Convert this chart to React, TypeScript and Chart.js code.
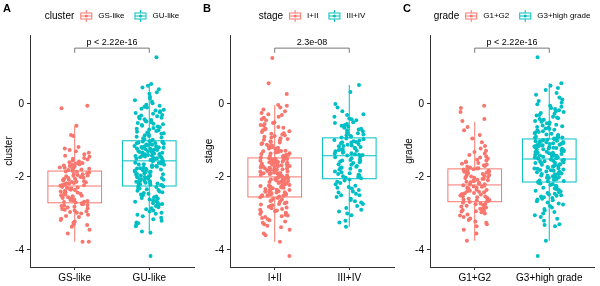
import React, { useEffect, useRef } from "react";
import { Chart, registerables } from "chart.js";
Chart.register(...registerables);

Chart.defaults.font.family = "'Liberation Sans', Arial, sans-serif";

const PINK = "#F8766D";
const TEAL = "#00BFC4";

// ---------- text ----------
const panelLetters = ["A", "B", "C"];
const legendTitles = ["cluster", "stage", "grade"];
const categoriesA = ["GS-like", "GU-like"];
const categoriesB = ["I+II", "III+IV"];
const categoriesC = ["G1+G2", "G3+high grade"];
const pLabels = ["p < 2.22e-16", "2.3e-08", "p < 2.22e-16"];

// ---------- axes ----------
const yTicks = [-4, -2, 0];
const xTicks = [1, 2];
const yMin = -4.47;
const yMax = 1.89;
const bracketY = 1.53;
const bracketDrop = 1.4;

// ---------- box statistics [lower whisker, Q1, median, Q3, upper whisker] ----------
const statsA_GS = [-3.78, -2.71, -2.25, -1.84, -0.6];
const statsA_GU = [-3.53, -2.25, -1.56, -1.01, 0.55];
const statsB_12 = [-3.78, -2.55, -2.0, -1.48, -0.03];
const statsB_34 = [-3.37, -2.05, -1.42, -0.93, 0.52];
const statsC_12 = [-3.75, -2.68, -2.22, -1.78, -0.49];
const statsC_3H = [-3.75, -2.14, -1.51, -0.96, 0.57];

// ---------- points ----------
const pointsA_GS = [-0.05,-0.12,-0.6,-0.85,-0.88,-1.18,-1.22,-1.26,-1.3,-1.34,-1.38,-1.42,-1.45,-1.48,-1.5,-1.52,-1.55,-1.58,-1.6,-1.62,-1.63,-1.65,-1.67,-1.69,-1.7,-1.72,-1.74,-1.75,-1.76,-1.78,-1.8,-1.81,-1.83,
-1.85,-1.86,-1.88,-1.9,-1.92,-1.93,-1.95,-1.96,-1.97,-1.98,-2.0,-2.02,-2.03,-2.05,-2.06,-2.07,-2.08,-2.1,-2.12,-2.13,-2.14,-2.15,-2.17,-2.18,-2.19,-2.2,-2.21,-2.22,-2.23,-2.24,
-2.26,-2.27,-2.29,-2.3,-2.32,-2.33,-2.35,-2.36,-2.38,-2.4,-2.42,-2.43,-2.45,-2.46,-2.48,-2.5,-2.52,-2.53,-2.55,-2.56,-2.58,-2.6,-2.62,-2.63,-2.65,-2.66,-2.68,-2.69,-2.7,
-2.72,-2.74,-2.75,-2.77,-2.79,-2.8,-2.82,-2.84,-2.86,-2.88,-2.9,-2.92,-2.94,-2.96,-2.98,-3.0,-3.04,-3.07,-3.1,-3.15,-3.18,-3.22,-3.26,-3.3,-3.32,-3.37,-3.45,-3.55,-3.78,-3.78];

const pointsA_GU = [1.28,0.55,0.5,0.45,0.4,0.32,0.28,0.2,0.15,0.1,0.06,0.02,-0.02,-0.05,-0.08,-0.1,-0.13,-0.16,-0.18,-0.2,-0.23,-0.25,-0.27,-0.3,-0.32,-0.34,-0.36,-0.38,-0.4,-0.42,-0.44,-0.46,-0.48,-0.5,-0.52,-0.54,-0.56,-0.58,-0.6,-0.62,-0.64,-0.66,-0.68,-0.7,-0.72,-0.74,-0.76,-0.78,-0.8,-0.82,-0.84,-0.86,-0.88,-0.9,-0.92,-0.94,-0.96,-0.98,-1.0,
-1.02,-1.03,-1.04,-1.05,-1.06,-1.07,-1.08,-1.09,-1.1,-1.11,-1.12,-1.13,-1.14,-1.15,-1.16,-1.17,-1.18,-1.19,-1.2,-1.21,-1.22,-1.23,-1.24,-1.25,-1.26,-1.27,-1.28,-1.29,-1.3,-1.31,-1.32,-1.33,-1.34,-1.35,-1.36,-1.37,-1.38,-1.39,-1.4,-1.41,-1.42,-1.43,-1.44,-1.45,-1.46,-1.47,-1.48,-1.49,-1.5,-1.51,-1.52,-1.53,-1.54,-1.55,
-1.57,-1.58,-1.6,-1.61,-1.62,-1.63,-1.65,-1.66,-1.67,-1.68,-1.7,-1.71,-1.72,-1.73,-1.75,-1.76,-1.77,-1.78,-1.8,-1.81,-1.82,-1.83,-1.85,-1.86,-1.87,-1.88,-1.9,-1.91,-1.92,-1.93,-1.95,-1.96,-1.97,-1.98,-2.0,-2.01,-2.02,-2.03,-2.05,-2.06,-2.07,-2.08,-2.1,-2.11,-2.12,-2.13,-2.15,-2.16,-2.17,-2.18,-2.2,-2.21,-2.22,-2.23,-2.24,
-2.26,-2.28,-2.3,-2.32,-2.34,-2.36,-2.38,-2.4,-2.42,-2.44,-2.46,-2.48,-2.5,-2.52,-2.54,-2.56,-2.58,-2.6,-2.62,-2.64,-2.66,-2.68,-2.7,-2.72,-2.74,-2.76,-2.78,-2.8,-2.83,-2.86,-2.89,-2.92,-2.95,-2.98,-3.01,-3.04,-3.08,-3.12,-3.16,-3.2,-3.25,-3.27,-3.3,-3.35,-3.5,-3.53,-4.17];

const pointsB_12 = [1.26,0.57,0.27,-0.03,-0.05,-0.1,-0.15,-0.2,-0.25,-0.28,-0.3,-0.35,-0.38,-0.42,-0.45,-0.5,-0.52,-0.55,-0.58,-0.6,-0.63,-0.65,-0.68,-0.7,-0.72,-0.75,-0.77,-0.8,-0.82,-0.84,-0.86,-0.88,-0.9,-0.92,-0.94,-0.96,-0.98,-1.0,-1.02,-1.04,-1.06,-1.08,-1.1,-1.12,-1.14,-1.15,-1.17,-1.19,-1.2,-1.22,-1.23,-1.25,-1.26,-1.28,-1.29,-1.3,-1.32,-1.33,-1.35,-1.36,-1.37,-1.39,-1.4,-1.41,-1.42,-1.43,-1.44,-1.45,-1.46,-1.47,
-1.49,-1.5,-1.5,-1.51,-1.52,-1.53,-1.54,-1.55,-1.55,-1.56,-1.57,-1.58,-1.59,-1.6,-1.6,-1.61,-1.62,-1.63,-1.64,-1.65,-1.66,-1.67,-1.68,-1.69,-1.7,-1.7,-1.71,-1.72,-1.73,-1.74,-1.75,-1.76,-1.77,-1.78,-1.79,-1.8,-1.8,-1.81,-1.82,-1.83,-1.84,-1.85,-1.86,-1.87,-1.88,-1.89,-1.9,-1.9,-1.91,-1.92,-1.93,-1.94,-1.95,-1.96,-1.97,-1.98,-1.99,-2.0,
-2.01,-2.02,-2.03,-2.04,-2.05,-2.06,-2.07,-2.08,-2.09,-2.1,-2.11,-2.12,-2.13,-2.14,-2.15,-2.16,-2.17,-2.18,-2.19,-2.2,-2.21,-2.22,-2.23,-2.24,-2.25,-2.26,-2.27,-2.28,-2.29,-2.3,-2.31,-2.32,-2.33,-2.34,-2.35,-2.36,-2.37,-2.38,-2.39,-2.4,-2.41,-2.42,-2.43,-2.44,-2.45,-2.46,-2.47,-2.48,-2.49,-2.5,-2.51,-2.52,-2.53,-2.54,
-2.56,-2.58,-2.6,-2.62,-2.64,-2.66,-2.68,-2.7,-2.72,-2.74,-2.76,-2.78,-2.8,-2.82,-2.84,-2.86,-2.88,-2.9,-2.92,-2.94,-2.96,-2.98,-3.0,-3.02,-3.04,-3.06,-3.08,-3.1,-3.13,-3.16,-3.19,-3.22,-3.26,-3.3,-3.34,-3.38,-3.45,-3.55,-3.6,-3.78,-4.17];

const pointsB_34 = [0.52,0.33,0.0,-0.1,-0.2,-0.28,-0.3,-0.35,-0.4,-0.42,-0.45,-0.5,-0.52,-0.55,-0.58,-0.6,-0.62,-0.65,-0.68,-0.7,-0.72,-0.75,-0.78,-0.8,-0.82,-0.84,-0.86,-0.88,-0.9,-0.92,
-0.95,-0.97,-0.99,-1.0,-1.02,-1.04,-1.05,-1.06,-1.08,-1.1,-1.12,-1.14,-1.15,-1.16,-1.18,-1.2,-1.22,-1.24,-1.25,-1.26,-1.28,-1.3,-1.32,-1.34,-1.35,-1.36,-1.38,-1.39,-1.4,-1.41,
-1.44,-1.46,-1.49,-1.51,-1.54,-1.55,-1.56,-1.58,-1.6,-1.62,-1.65,-1.67,-1.7,-1.72,-1.74,-1.75,-1.76,-1.78,-1.8,-1.83,-1.85,-1.87,-1.9,-1.92,-1.94,-1.96,-1.98,-2.0,-2.02,-2.04,
-2.07,-2.1,-2.13,-2.17,-2.2,-2.24,-2.28,-2.3,-2.32,-2.36,-2.4,-2.43,-2.46,-2.5,-2.5,-2.55,-2.6,-2.63,-2.67,-2.7,-2.74,-2.8,-2.85,-2.9,-2.95,-3.0,-3.05,-3.2,-3.25,-3.37];

const pointsC_12 = [-0.05,-0.11,-0.22,-0.41,-0.47,-0.63,-0.72,-0.85,-0.95,-1.05,-1.15,-1.22,-1.28,-1.32,-1.36,-1.4,-1.44,-1.47,-1.5,-1.53,-1.55,-1.58,-1.6,-1.62,-1.64,-1.66,-1.68,-1.7,-1.72,-1.74,-1.76,-1.77,
-1.79,-1.8,-1.82,-1.83,-1.85,-1.86,-1.88,-1.89,-1.9,-1.92,-1.93,-1.95,-1.96,-1.98,-1.99,-2.0,-2.02,-2.03,-2.05,-2.06,-2.08,-2.09,-2.1,-2.12,-2.13,-2.15,-2.16,-2.18,-2.19,-2.2,-2.21,
-2.23,-2.24,-2.26,-2.27,-2.29,-2.3,-2.32,-2.33,-2.35,-2.36,-2.38,-2.39,-2.41,-2.42,-2.44,-2.45,-2.47,-2.48,-2.5,-2.51,-2.53,-2.54,-2.56,-2.57,-2.59,-2.6,-2.62,-2.63,-2.65,-2.66,-2.67,
-2.69,-2.71,-2.73,-2.74,-2.75,-2.77,-2.79,-2.81,-2.83,-2.84,-2.85,-2.87,-2.89,-2.91,-2.93,-2.94,-2.95,-2.97,-3.0,-3.03,-3.06,-3.1,-3.14,-3.18,-3.22,-3.26,-3.3,-3.35,-3.45,-3.55,-3.75];

const pointsC_3H = [1.28,0.57,0.5,0.44,0.38,0.3,0.25,0.18,0.12,0.08,0.03,-0.01,-0.05,-0.08,-0.11,-0.14,-0.17,-0.2,-0.22,-0.25,-0.27,-0.3,-0.32,-0.35,-0.37,-0.39,-0.41,-0.43,-0.45,-0.47,-0.49,-0.51,-0.53,-0.55,-0.57,-0.59,-0.61,-0.63,-0.65,-0.67,-0.69,-0.71,-0.73,-0.75,-0.77,-0.79,-0.8,-0.82,-0.84,-0.85,-0.87,-0.88,-0.9,-0.91,-0.92,-0.93,-0.94,-0.95,
-0.97,-0.98,-0.99,-1.0,-1.01,-1.02,-1.03,-1.04,-1.05,-1.06,-1.07,-1.08,-1.09,-1.1,-1.11,-1.12,-1.13,-1.14,-1.15,-1.16,-1.17,-1.18,-1.19,-1.2,-1.21,-1.22,-1.23,-1.24,-1.25,-1.26,-1.27,-1.28,-1.29,-1.3,-1.31,-1.32,-1.33,-1.34,-1.35,-1.36,-1.37,-1.38,-1.39,-1.4,-1.41,-1.42,-1.43,-1.44,-1.45,-1.46,-1.47,-1.48,-1.49,-1.5,
-1.52,-1.53,-1.55,-1.56,-1.57,-1.58,-1.6,-1.61,-1.62,-1.63,-1.65,-1.66,-1.67,-1.68,-1.7,-1.71,-1.72,-1.73,-1.75,-1.76,-1.77,-1.78,-1.8,-1.81,-1.82,-1.83,-1.85,-1.86,-1.87,-1.88,-1.9,-1.91,-1.92,-1.93,-1.95,-1.96,-1.97,-1.98,-2.0,-2.01,-2.02,-2.03,-2.05,-2.06,-2.07,-2.08,-2.1,-2.11,-2.12,-2.13,
-2.16,-2.18,-2.2,-2.22,-2.24,-2.26,-2.28,-2.3,-2.32,-2.34,-2.36,-2.38,-2.4,-2.42,-2.44,-2.46,-2.48,-2.5,-2.52,-2.54,-2.56,-2.58,-2.6,-2.62,-2.64,-2.67,-2.7,-2.73,-2.76,-2.8,-2.84,-2.88,-2.92,-2.96,-3.0,-3.05,-3.1,-3.15,-3.2,-3.3,-3.32,-3.35,-3.75,-4.17];

// deterministic horizontal jitter (display only, like geom_jitter)
const JITTER = 0.2;
function jitter(i: number, g: number): number {
  const s = Math.sin((i + 1) * 12.9898 + g * 78.233) * 43758.5453;
  return (s - Math.floor(s) - 0.5) * 2 * JITTER;
}

const BOX_HALF = 0.36;

function drawKey(ctx: CanvasRenderingContext2D, x: number, yc: number, color: string) {
  ctx.save();
  ctx.strokeStyle = color;
  ctx.fillStyle = color;
  ctx.lineWidth = 1;
  const cx = x + 6;
  ctx.beginPath();
  ctx.moveTo(cx, yc - 6); ctx.lineTo(cx, yc - 3);
  ctx.moveTo(cx, yc + 3); ctx.lineTo(cx, yc + 6);
  ctx.moveTo(x + 0.5, yc); ctx.lineTo(x + 11.5, yc);
  ctx.stroke();
  ctx.strokeRect(x + 0.5, yc - 3, 11, 6);
  ctx.beginPath();
  ctx.arc(cx, yc, 1.5, 0, Math.PI * 2);
  ctx.fill();
  ctx.restore();
}

interface PanelProps {
  idx: number;
  categories: string[];
  points: number[][];
  stats: number[][];
}

function Panel({ idx, categories, points, stats }: PanelProps) {
  const ref = useRef<HTMLCanvasElement>(null);
  useEffect(() => {
    const colors = [PINK, TEAL];
    const font = "'Liberation Sans', Arial, sans-serif";
    const boxPlugin = {
      id: "boxes",
      beforeDatasetsDraw(chart: any) {
        const { ctx, scales } = chart;
        const xs = scales.x, ys = scales.y;
        stats.forEach((s, g) => {
          const pos = xTicks[g];
          const l = xs.getPixelForValue(pos - BOX_HALF);
          const r = xs.getPixelForValue(pos + BOX_HALF);
          const c = xs.getPixelForValue(pos);
          const [lo, q1, med, q3, hi] = s.map((v) => ys.getPixelForValue(v));
          ctx.save();
          ctx.strokeStyle = colors[g];
          ctx.lineWidth = 1;
          ctx.beginPath();
          ctx.moveTo(c, q3); ctx.lineTo(c, hi);
          ctx.moveTo(c, q1); ctx.lineTo(c, lo);
          ctx.moveTo(l, med); ctx.lineTo(r, med);
          ctx.stroke();
          ctx.strokeRect(l, q3, r - l, q1 - q3);
          ctx.restore();
        });
      },
    };
    const annotPlugin = {
      id: "annot",
      afterDraw(chart: any) {
        const { ctx, scales, chartArea } = chart;
        const xs = scales.x, ys = scales.y;
        // bracket
        const x1 = xs.getPixelForValue(xTicks[0]);
        const x2 = xs.getPixelForValue(xTicks[1]);
        const yb = ys.getPixelForValue(bracketY);
        const yd = ys.getPixelForValue(bracketDrop);
        ctx.save();
        ctx.strokeStyle = "#555";
        ctx.lineWidth = 0.8;
        ctx.beginPath();
        ctx.moveTo(x1, yd); ctx.lineTo(x1, yb); ctx.lineTo(x2, yb); ctx.lineTo(x2, yd);
        ctx.stroke();
        ctx.fillStyle = "#000";
        ctx.font = `9px ${font}`;
        ctx.textAlign = "center";
        ctx.textBaseline = "alphabetic";
        ctx.fillText(pLabels[idx], (x1 + x2) / 2, yb - 3);
        // panel letter
        ctx.font = `bold 11px ${font}`;
        ctx.textAlign = "left";
        ctx.fillText(panelLetters[idx], 3, 12);
        // legend
        const titleFont = `10px ${font}`;
        const labFont = `8px ${font}`;
        ctx.font = titleFont;
        const tw = ctx.measureText(legendTitles[idx]).width;
        ctx.font = labFont;
        const lw = categories.map((c) => ctx.measureText(c).width);
        const total = tw + 6 + (12 + 6 + lw[0]) + 10 + (12 + 6 + lw[1]);
        let x = (chartArea.left + chartArea.right) / 2 - total / 2;
        const yc = 16;
        ctx.textBaseline = "middle";
        ctx.font = titleFont;
        ctx.fillText(legendTitles[idx], x, yc);
        x += tw + 6;
        categories.forEach((c, g) => {
          drawKey(ctx, x, yc, colors[g]);
          x += 12 + 6;
          ctx.font = labFont;
          ctx.fillStyle = "#000";
          ctx.fillText(c, x, yc);
          x += lw[g] + 10;
        });
        ctx.restore();
      },
    };
    const chart = new Chart(ref.current as HTMLCanvasElement, {
      type: "scatter",
      data: {
        datasets: points.map((vals, g) => ({
          label: categories[g],
          data: vals.map((v, i) => ({ x: xTicks[g] + jitter(i, g + idx * 3), y: v })),
          backgroundColor: colors[g],
          borderWidth: 0,
          pointRadius: 2,
          pointHoverRadius: 2,
        })),
      },
      options: {
        animation: false,
        responsive: false,
        devicePixelRatio: 1,
        events: [],
        layout: { padding: { top: 35, right: 6, left: 0, bottom: 0 } },
        plugins: { legend: { display: false }, tooltip: { enabled: false } },
        scales: {
          x: {
            type: "linear",
            min: 0.4,
            max: 2.6,
            afterBuildTicks: (s: any) => { s.ticks = xTicks.map((v) => ({ value: v })); },
            afterFit: (s: any) => { s.height = 19; },
            ticks: {
              callback: (_v: any, i: number) => categories[i],
              color: "#000",
              font: { size: 10 },
              padding: 2,
              maxRotation: 0,
              autoSkip: false,
            },
            grid: { drawOnChartArea: false, drawTicks: true, tickLength: 3, color: "#333" },
            border: { display: true, color: "#333", width: 1 },
          },
          y: {
            min: yMin,
            max: yMax,
            afterBuildTicks: (s: any) => { s.ticks = yTicks.map((v) => ({ value: v })); },
            afterFit: (s: any) => { s.width = 30; },
            title: { display: true, text: legendTitles[idx], color: "#000", font: { size: 10 }, padding: { top: 3, bottom: 0 } },
            ticks: { color: "#000", font: { size: 10 }, padding: 3 },
            grid: { drawOnChartArea: false, drawTicks: true, tickLength: 3, color: "#333" },
            border: { display: true, color: "#333", width: 1 },
          },
        },
      },
      plugins: [boxPlugin, annotPlugin],
    } as any);
    return () => chart.destroy();
  }, []);
  return <canvas ref={ref} width={200} height={286} style={{ display: "block", width: 200, height: 286 }} />;
}

export default function App() {
  return (
    <div style={{ position: "absolute", left: 0, top: 0, width: 600, height: 286, display: "flex", background: "#fff" }}>
      <Panel idx={0} categories={categoriesA} points={[pointsA_GS, pointsA_GU]} stats={[statsA_GS, statsA_GU]} />
      <Panel idx={1} categories={categoriesB} points={[pointsB_12, pointsB_34]} stats={[statsB_12, statsB_34]} />
      <Panel idx={2} categories={categoriesC} points={[pointsC_12, pointsC_3H]} stats={[statsC_12, statsC_3H]} />
    </div>
  );
}
